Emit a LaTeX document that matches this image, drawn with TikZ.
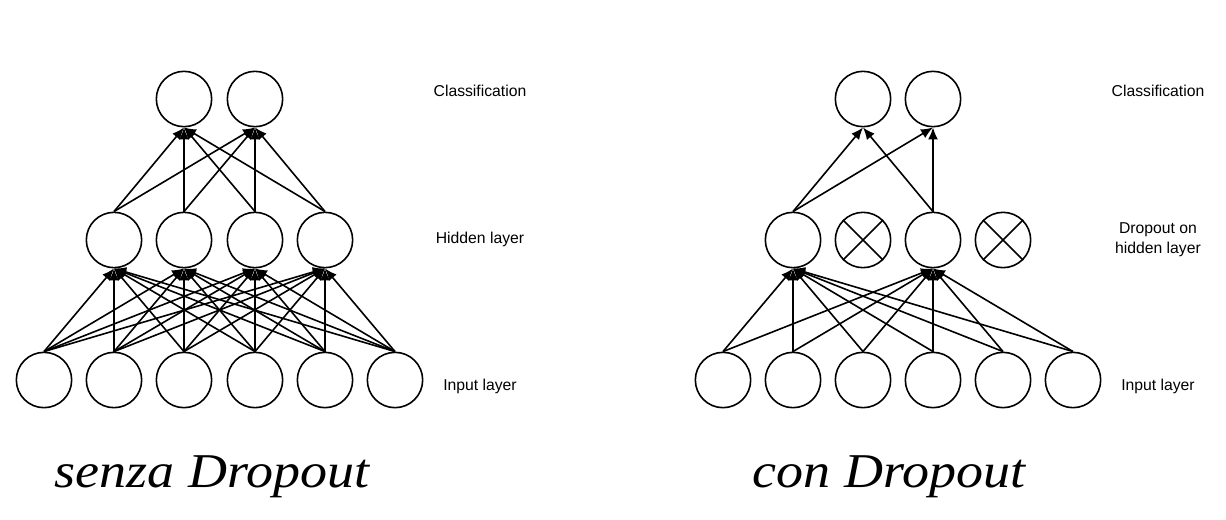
\documentclass[tikz,border=0pt]{standalone}
\usepackage{fontspec}
\setmainfont{Liberation Serif}
\newfontfamily\labelfont{Liberation Sans}
\usepackage{graphicx}
\usetikzlibrary{arrows.meta}

\tikzset{every picture/.style={line width=1.2pt}}
\tikzset{
  neuron/.style={draw, circle, minimum size=41.5pt, inner sep=0pt},
  conn/.style={-{Latex[length=9pt,width=7.5pt]}},
  layerlabel/.style={font=\labelfont\fontsize{11.8pt}{15pt}\selectfont, align=center},
  capt/.style={anchor=base, font=\itshape\fontsize{40.5pt}{48pt}\selectfont},
}

\begin{document}
\begin{tikzpicture}[x=0.75pt,y=0.75pt,yscale=-1,xscale=1]
\useasboundingbox (0,0) rectangle (1226,519);

%%% senza Dropout
%Shape: Circle (classification)
\node[neuron] (so1) at (184,99) {};
\node[neuron] (so2) at (255,99) {};
%Shape: Circle (hidden layer)
\node[neuron] (sh1) at (114,240) {};
\node[neuron] (sh2) at (184,240) {};
\node[neuron] (sh3) at (255,240) {};
\node[neuron] (sh4) at (325,240) {};
%Shape: Circle (input layer)
\node[neuron] (si1) at (44,380) {};
\node[neuron] (si2) at (114,380) {};
\node[neuron] (si3) at (184,380) {};
\node[neuron] (si4) at (255,380) {};
\node[neuron] (si5) at (325,380) {};
\node[neuron] (si6) at (395,380) {};

%Straight Lines (input -> hidden)
\draw (si1.north) edge[conn] (sh1.south) edge[conn] (sh2.south) edge[conn] (sh3.south) edge[conn] (sh4.south);
\draw (si2.north) edge[conn] (sh1.south) edge[conn] (sh2.south) edge[conn] (sh3.south) edge[conn] (sh4.south);
\draw (si3.north) edge[conn] (sh1.south) edge[conn] (sh2.south) edge[conn] (sh3.south) edge[conn] (sh4.south);
\draw (si4.north) edge[conn] (sh1.south) edge[conn] (sh2.south) edge[conn] (sh3.south) edge[conn] (sh4.south);
\draw (si5.north) edge[conn] (sh1.south) edge[conn] (sh2.south) edge[conn] (sh3.south) edge[conn] (sh4.south);
\draw (si6.north) edge[conn] (sh1.south) edge[conn] (sh2.south) edge[conn] (sh3.south) edge[conn] (sh4.south);
%Straight Lines (hidden -> classification)
\draw (sh1.north) edge[conn] (so1.south) edge[conn] (so2.south);
\draw (sh2.north) edge[conn] (so1.south) edge[conn] (so2.south);
\draw (sh3.north) edge[conn] (so1.south) edge[conn] (so2.south);
\draw (sh4.north) edge[conn] (so1.south) edge[conn] (so2.south);

%Text
\node[layerlabel] (slc) at (480,91) {Classification};
\node[layerlabel] (slh) at (480,239) {Hidden layer};
\node[layerlabel] (sli) at (480,386) {Input layer};
\node[capt] (scap) at (212,487) {\scalebox{1}[0.9]{senza Dropout}};

%%% con Dropout
%Shape: Circle (classification)
\node[neuron] (co1) at (863,99) {};
\node[neuron] (co2) at (933,99) {};
%Shape: Circle (hidden layer, two dropped)
\node[neuron] (ch1) at (793,240) {};
\node[neuron] (ch2) at (863,240) {};
\node[neuron] (ch3) at (933,240) {};
\node[neuron] (ch4) at (1003,240) {};
\draw (ch2.north west) -- (ch2.south east) (ch2.north east) -- (ch2.south west);
\draw (ch4.north west) -- (ch4.south east) (ch4.north east) -- (ch4.south west);
%Shape: Circle (input layer)
\node[neuron] (ci1) at (723,380) {};
\node[neuron] (ci2) at (793,380) {};
\node[neuron] (ci3) at (863,380) {};
\node[neuron] (ci4) at (933,380) {};
\node[neuron] (ci5) at (1003,380) {};
\node[neuron] (ci6) at (1073,380) {};

%Straight Lines (input -> kept hidden)
\draw (ci1.north) edge[conn] (ch1.south) edge[conn] (ch3.south);
\draw (ci2.north) edge[conn] (ch1.south) edge[conn] (ch3.south);
\draw (ci3.north) edge[conn] (ch1.south) edge[conn] (ch3.south);
\draw (ci4.north) edge[conn] (ch1.south) edge[conn] (ch3.south);
\draw (ci5.north) edge[conn] (ch1.south) edge[conn] (ch3.south);
\draw (ci6.north) edge[conn] (ch1.south) edge[conn] (ch3.south);
%Straight Lines (kept hidden -> classification)
\draw (ch1.north) edge[conn] (co1.south) edge[conn] (co2.south);
\draw (ch3.north) edge[conn] (co1.south) edge[conn] (co2.south);

%Text
\node[layerlabel] (clc) at (1158,91) {Classification};
\node[layerlabel] (clh) at (1158,240) {Dropout on\\hidden layer};
\node[layerlabel] (cli) at (1158,386) {Input layer};
\node[capt] (ccap) at (889,487) {\scalebox{1}[0.9]{con Dropout}};

\end{tikzpicture}
\end{document}
